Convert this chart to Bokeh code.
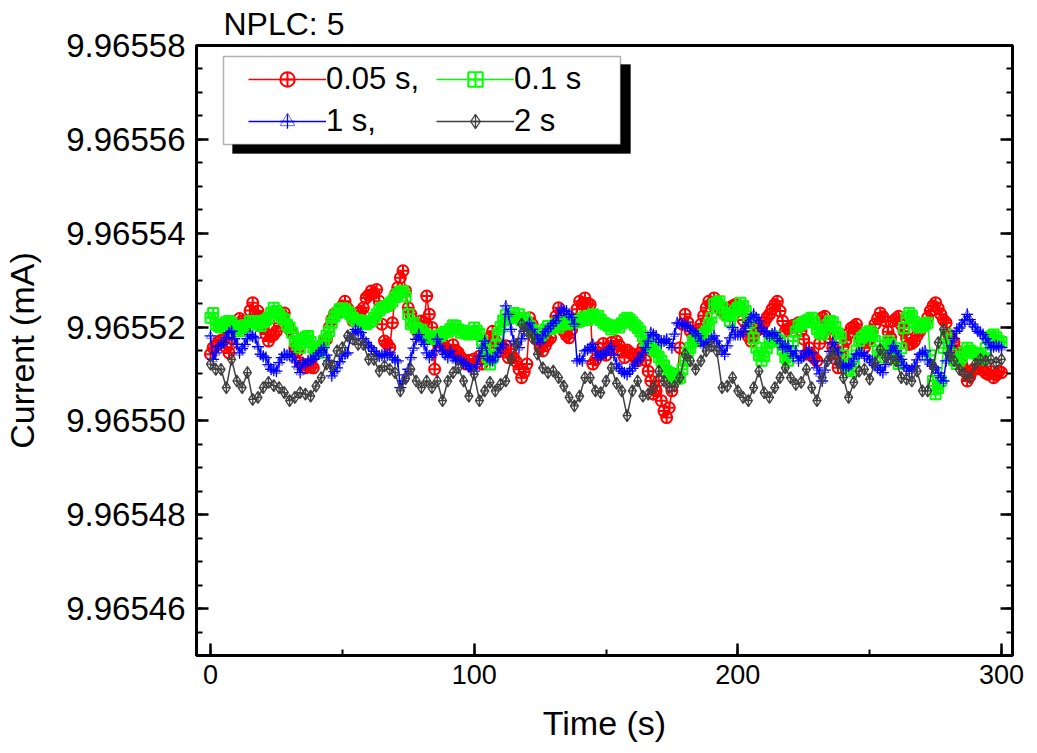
from bokeh.plotting import figure
from bokeh.models import (Range1d, FixedTicker, PrintfTickFormatter, LinearAxis,
                          Legend, LegendItem, BoxAnnotation, ColumnDataSource,
                          CustomLabelingPolicy)
from bokeh.embed import file_html
from bokeh.resources import INLINE
import numpy as np

# ---------------- data ----------------
title_text = "NPLC: 5"
series_labels = ["0.05 s,", "0.1 s", "1 s,", "2 s"]
x_ticks = [0, 100, 200, 300]
y_ticks = [9.96546, 9.96548, 9.96550, 9.96552, 9.96554, 9.96556, 9.96558]
base_mA = 9.96550          # offsets below are in nA (1e-6 mA) above this base

t_red = list(range(0, 301))
red_nA = [
    14.2, 15.6, 16.0, 16.8, 17.2, 17.4, 15.6, 14.5, 16.5, 19.9,
    20.5, 21.8, 21.3, 20.4, 20.9, 23.5, 25.2, 22.7, 23.4, 22.0,
    19.9, 18.5, 17.0, 18.0, 18.4, 19.1, 20.8, 22.7, 23.0, 20.6,
    19.5, 18.8, 15.5, 14.9, 12.4, 11.9, 11.3, 12.0, 11.5, 11.3,
    14.2, 15.2, 16.0, 16.8, 17.4, 19.9, 21.6, 22.8, 23.0, 23.9,
    24.5, 25.5, 24.0, 22.7, 21.3, 22.0, 23.0, 23.4, 24.1, 26.2,
    26.8, 27.7, 27.2, 28.0, 25.5, 20.6, 17.0, 16.4, 15.6, 20.9,
    26.9, 28.4, 30.5, 32.0, 27.7, 24.1, 22.7, 20.6, 19.4, 18.4,
    21.3, 21.0, 26.6, 22.7, 19.9, 11.0, 17.0, 18.1, 16.5, 15.6,
    15.2, 14.9, 16.2, 15.0, 14.5, 13.5, 13.0, 12.1, 12.9, 11.7,
    13.2, 12.5, 13.8, 12.1, 14.4, 16.3, 17.8, 19.1, 17.0, 16.2,
    14.9, 15.5, 16.0, 13.5, 14.2, 13.5, 12.6, 11.0, 9.2, 10.4,
    12.1, 22.0, 20.6, 18.8, 17.2, 15.6, 14.9, 16.0, 17.1, 17.7,
    20.1, 22.3, 24.1, 22.0, 19.1, 18.2, 17.7, 19.5, 21.6, 23.8,
    25.5, 24.9, 26.2, 25.0, 24.8, 12.1, 13.0, 15.6, 14.3, 16.5,
    14.0, 15.8, 16.7, 15.4, 17.0, 16.1, 14.9, 13.5, 15.1, 14.6,
    14.2, 13.4, 12.8, 14.5, 15.6, 12.9, 10.6, 8.5, 5.7, 6.4,
    8.5, 4.3, 2.1, 0.7, 2.8, 6.4, 9.9, 9.0, 15.6, 20.6,
    22.7, 21.0, 19.1, 18.0, 17.0, 19.5, 20.6, 22.4, 24.1, 25.5,
    25.0, 26.2, 25.4, 24.1, 23.5, 22.7, 23.4, 24.1, 24.5, 24.8,
    24.3, 24.1, 21.5, 19.1, 18.0, 17.0, 18.2, 19.1, 20.4, 20.0,
    21.0, 22.0, 22.7, 23.8, 24.8, 25.5, 23.4, 21.3, 19.1, 19.6,
    19.9, 20.4, 20.0, 20.9, 19.2, 17.4, 14.2, 15.6, 14.0, 13.4,
    12.8, 16.5, 22.0, 22.3, 20.0, 17.5, 15.6, 13.2, 11.3, 14.0,
    15.8, 17.2, 18.6, 19.8, 20.1, 20.6, 18.5, 17.0, 15.6, 16.8,
    17.5, 19.0, 20.6, 21.8, 23.0, 22.2, 21.3, 19.0, 17.7, 21.3,
    21.8, 22.3, 20.5, 19.1, 17.6, 16.3, 16.5, 17.0, 18.2, 19.1,
    20.0, 20.6, 22.0, 23.4, 24.5, 25.2, 24.0, 22.7, 21.5, 20.9,
    18.4, 17.5, 16.7, 15.0, 14.2, 12.0, 10.6, 8.5, 9.5, 10.8,
    11.0, 11.3, 12.5, 10.8, 10.2, 9.9, 10.5, 9.2, 9.8, 10.6,
    10.3,
]

t_green = list(range(0, 301))
green_nA = [
    22.0, 23.0, 20.6, 20.2, 19.9, 20.5, 21.0, 21.3, 20.8, 20.2,
    19.6, 19.1, 19.8, 20.4, 20.2, 21.3, 21.0, 21.3, 20.7, 20.2,
    21.0, 21.5, 22.0, 23.0, 24.1, 23.4, 22.7, 22.0, 21.6, 20.5,
    19.9, 18.8, 17.0, 16.2, 15.6, 17.4, 17.8, 18.1, 16.8, 15.6,
    15.0, 14.5, 15.8, 17.0, 18.2, 19.1, 20.9, 22.3, 23.0, 23.8,
    24.0, 23.8, 23.2, 22.7, 22.0, 21.3, 21.5, 21.3, 20.8, 20.6,
    21.0, 21.3, 22.0, 22.7, 23.5, 24.1, 24.3, 24.5, 25.0, 25.5,
    26.4, 27.0, 27.5, 27.7, 26.5, 22.7, 20.6, 20.9, 19.8, 19.1,
    19.4, 18.6, 18.0, 17.7, 18.2, 17.4, 17.9, 18.1, 18.5, 19.0,
    19.0, 19.6, 20.4, 20.2, 19.5, 18.8, 19.2, 18.6, 18.4, 19.0,
    19.9, 19.2, 18.5, 17.0, 15.2, 13.6, 12.0, 13.5, 16.0, 18.4,
    20.0, 21.4, 22.5, 21.8, 22.3, 23.0, 22.0, 22.7, 21.5, 22.0,
    21.0, 20.2, 19.4, 18.8, 18.4, 18.0, 18.6, 19.5, 20.2, 19.6,
    20.0, 20.8, 19.9, 20.5, 21.0, 20.6, 21.4, 20.8, 21.2, 21.0,
    21.3, 21.8, 22.2, 21.5, 22.3, 22.7, 22.0, 22.4, 21.5, 20.9,
    20.6, 20.2, 19.5, 20.0, 20.4, 19.9, 20.8, 21.5, 22.0, 21.6,
    21.0, 20.4, 19.8, 19.1, 18.0, 17.0, 16.5, 15.8, 15.2, 14.9,
    13.6, 12.8, 11.8, 10.6, 10.2, 9.8, 9.5, 9.0, 9.2, 11.0,
    12.8, 14.5, 15.6, 17.0, 17.5, 18.0, 17.6, 18.4, 19.1, 20.5,
    22.0, 24.8, 25.2, 25.5, 24.2, 23.0, 22.4, 21.3, 22.6, 23.5,
    24.1, 25.2, 24.5, 23.4, 21.8, 19.9, 17.6, 15.6, 14.0, 12.8,
    13.8, 15.5, 16.8, 17.7, 18.0, 17.4, 17.0, 15.2, 13.5, 12.8,
    14.5, 17.0, 19.0, 20.3, 20.6, 21.0, 21.3, 21.6, 22.0, 21.0,
    19.6, 18.8, 18.4, 19.5, 20.4, 21.3, 21.0, 20.0, 18.6, 17.7,
    14.0, 12.0, 11.0, 10.6, 12.5, 15.0, 17.0, 17.7, 18.2, 18.8,
    19.1, 18.5, 17.0, 15.0, 13.5, 14.8, 16.0, 17.0, 16.4, 15.0,
    13.6, 12.1, 15.5, 19.8, 22.0, 23.0, 22.4, 21.0, 20.3, 19.9,
    20.2, 20.6, 20.9, 14.0, 8.5, 5.7, 7.0, 8.5, 15.6, 18.4,
    16.5, 14.2, 13.0, 12.1, 12.8, 13.6, 14.6, 15.6, 15.0, 14.6,
    14.4, 14.2, 13.5, 13.1, 15.5, 17.7, 18.0, 18.4, 17.8, 17.0,
    16.8,
]

t_blue = list(range(0, 301))
blue_nA = [
    18.1, 13.1, 14.5, 15.9, 16.2, 16.7, 17.8, 18.8, 19.1, 17.5,
    16.3, 14.5, 15.4, 16.3, 17.5, 18.4, 18.0, 17.7, 15.8, 14.2,
    13.8, 13.5, 12.0, 11.0, 10.8, 10.6, 12.4, 13.5, 14.2, 14.0,
    14.2, 13.6, 12.8, 11.5, 10.3, 12.4, 12.0, 12.8, 13.0, 13.1,
    13.8, 14.5, 15.0, 15.6, 14.0, 12.8, 9.6, 10.5, 11.3, 12.6,
    13.8, 14.3, 14.5, 17.7, 18.6, 19.5, 19.0, 18.8, 17.5, 16.7,
    16.0, 15.6, 14.8, 14.2, 13.8, 14.0, 14.2, 14.0, 14.5, 13.5,
    13.0, 12.8, 7.1, 8.5, 9.8, 11.0, 13.5, 15.5, 17.4, 18.4,
    17.2, 16.3, 14.5, 13.5, 14.0, 14.9, 17.4, 16.0, 15.0, 14.2,
    13.5, 14.9, 13.8, 12.8, 13.0, 12.8, 12.4, 12.1, 11.5, 11.0,
    10.6, 12.0, 13.8, 15.5, 17.0, 13.8, 13.0, 12.8, 13.6, 14.5,
    15.5, 16.3, 24.5, 22.7, 19.5, 17.0, 16.2, 15.6, 17.5, 19.1,
    20.0, 20.9, 19.5, 18.4, 17.5, 16.7, 18.1, 19.0, 19.6, 20.2,
    20.8, 21.3, 22.5, 23.8, 23.5, 23.4, 22.7, 22.0, 20.6, 12.8,
    13.2, 12.8, 14.9, 15.2, 15.6, 16.3, 14.9, 13.5, 13.9, 14.2,
    14.5, 15.2, 15.9, 14.0, 12.1, 11.2, 10.6, 10.2, 9.9, 10.6,
    11.2, 12.1, 12.8, 13.5, 14.5, 15.6, 17.0, 18.8, 18.4, 18.1,
    17.3, 16.7, 17.0, 17.4, 16.5, 15.6, 18.5, 20.9, 20.8, 20.6,
    20.4, 20.2, 19.7, 19.1, 18.6, 18.1, 17.0, 16.0, 16.3, 16.7,
    17.4, 18.1, 17.0, 16.0, 15.0, 14.2, 16.0, 17.7, 19.9, 18.4,
    18.4, 18.4, 19.0, 20.2, 21.0, 22.0, 22.7, 22.0, 21.3, 19.8,
    19.1, 18.5, 18.1, 18.5, 18.8, 17.6, 17.0, 15.6, 15.8, 16.0,
    14.8, 13.8, 14.9, 12.8, 13.5, 13.8, 14.9, 14.6, 14.5, 12.8,
    11.3, 10.0, 8.5, 10.8, 12.8, 14.8, 16.7, 15.5, 14.5, 12.1,
    11.8, 11.3, 11.7, 12.1, 13.2, 14.2, 14.4, 14.5, 13.8, 13.8,
    13.0, 12.4, 11.8, 11.3, 10.8, 10.3, 12.0, 13.5, 15.0, 16.0,
    14.9, 13.8, 13.1, 11.8, 11.3, 10.6, 11.0, 11.7, 13.0, 14.2,
    14.5, 14.9, 13.0, 12.1, 11.6, 11.3, 10.2, 9.2, 8.5, 12.8,
    14.5, 16.0, 17.6, 19.1, 19.8, 20.6, 21.5, 22.7, 21.6, 20.6,
    20.0, 19.1, 18.8, 18.4, 17.5, 16.7, 15.6, 15.8, 16.0, 15.8,
    15.6,
]

t_black = list(range(0, 301, 2))
black_nA = [
    12.1, 11.0, 11.0, 7.1, 13.1, 8.5, 7.1, 10.3, 4.6, 5.0,
    7.1, 8.2, 7.5, 7.1, 6.0, 4.3, 5.0, 6.0, 5.7, 5.3,
    7.4, 9.2, 12.1, 11.7, 14.9, 15.6, 18.1, 17.4, 16.3, 16.3,
    13.1, 13.1, 10.6, 11.7, 11.0, 10.3, 6.4, 9.0, 11.0, 8.5,
    7.1, 8.5, 7.1, 8.5, 4.3, 8.5, 10.3, 11.3, 8.5, 5.3,
    9.9, 4.3, 6.4, 8.2, 6.4, 7.8, 8.5, 13.1, 16.3, 20.6,
    19.1, 17.7, 14.2, 11.3, 10.3, 10.6, 9.2, 7.4, 5.0, 3.2,
    5.3, 9.2, 9.2, 6.4, 6.0, 8.5, 11.3, 8.0, 6.4, 1.1,
    6.4, 8.5, 5.3, 5.7, 7.1, 10.6, 8.5, 7.1, 7.4, 9.2,
    14.2, 12.8, 11.0, 12.8, 14.9, 16.0, 14.9, 7.1, 7.4, 9.2,
    6.4, 5.0, 4.3, 7.1, 10.6, 6.0, 5.0, 7.1, 9.2, 11.3,
    9.2, 7.8, 8.2, 11.0, 7.1, 4.3, 9.2, 12.8, 14.5, 12.4,
    9.2, 5.0, 8.2, 10.6, 11.0, 8.9, 12.4, 15.2, 13.5, 13.1,
    12.8, 9.2, 8.9, 8.5, 10.6, 6.4, 6.4, 11.7, 16.7, 19.5,
    14.2, 12.8, 11.0, 9.9, 9.2, 12.1, 13.1, 12.8, 13.1, 12.4,
    13.1,
]

# ---------------- layout helpers (page pixels -> data) ----------------
X0, X1 = -5.31, 304.17
Y0, Y1 = 9.96545, 9.96558
FW, FH = 816, 610
FL, FT = 193, 44          # frame left / top on the page


def px_x(px):
    return X0 + (px - FL) / FW * (X1 - X0)


def px_y(py):
    return Y1 - (py - FT) / FH * (Y1 - Y0)


FONT = "Liberation Sans"

p = figure(frame_width=FW, frame_height=FH,
           x_range=Range1d(X0, X1), y_range=Range1d(Y0, Y1),
           output_backend="svg", toolbar_location=None,
           min_border_left=FL, min_border_right=20,
           min_border_top=FT, min_border_bottom=92,
           background_fill_color="white", border_fill_color="white")

p.title.text = title_text
p.title.text_font = FONT
p.title.text_font_size = "32px"
p.title.text_font_style = "normal"
p.title.text_color = "black"
p.title.align = "left"
p.title.offset = 27
p.title.standoff = 7

p.xgrid.visible = False
p.ygrid.visible = False
p.outline_line_color = "black"
p.outline_line_width = 3
p.outline_line_alpha = 1.0

x_minor = list(np.arange(0, 301, 50))
y_minor = list(np.round(np.arange(9.96545, 9.965581, 0.000005), 6))
xt = FixedTicker(ticks=x_ticks, minor_ticks=x_minor)
yt = FixedTicker(ticks=y_ticks, minor_ticks=y_minor)


def style_axis(ax):
    ax.axis_line_width = 3
    ax.axis_line_color = "black"
    ax.major_tick_in = 12
    ax.major_tick_out = 0
    ax.minor_tick_in = 6
    ax.minor_tick_out = 0
    ax.major_tick_line_width = 2.5
    ax.minor_tick_line_width = 2
    ax.major_label_text_font = FONT
    ax.axis_label_text_font = FONT
    ax.axis_label_text_font_style = "normal"
    ax.axis_label_text_font_size = "34px"
    ax.axis_label_text_color = "black"
    ax.major_label_text_color = "black"


xa = p.xaxis[0]
xa.ticker = xt
style_axis(xa)
xa.major_label_text_font_size = "27px"
xa.major_label_standoff = 9
xa.axis_label = "Time (s)"
xa.axis_label_standoff = 17

ya = p.yaxis[0]
ya.ticker = yt
ya.formatter = PrintfTickFormatter(format="%.5f")
style_axis(ya)
ya.major_label_text_font_size = "33px"
ya.major_label_standoff = 11
ya.axis_label = "Current (mA)"
ya.axis_label_standoff = 22

ra = LinearAxis(ticker=yt)
style_axis(ra)
ra.major_label_policy = CustomLabelingPolicy(code="return new Set()")
ra.major_label_standoff = 0
p.add_layout(ra, "right")

# ---------------- data glyphs ----------------
def cur(vals):
    return [base_mA + v * 1e-6 for v in vals]


src_r = ColumnDataSource(dict(t=t_red, i=cur(red_nA)))
src_g = ColumnDataSource(dict(t=t_green, i=cur(green_nA)))
src_b = ColumnDataSource(dict(t=t_blue, i=cur(blue_nA)))
src_k = ColumnDataSource(dict(t=t_black, i=cur(black_nA)))

RED, GREEN, BLUE, GREY = "#ff0000", "#00ff00", "#0000ff", "#404040"

lr = p.line("t", "i", source=src_r, line_color=RED, line_width=1.5)
sr = p.scatter("t", "i", source=src_r, marker="circle_cross", size=11,
               line_color=RED, fill_color=None, line_width=2)
lg = p.line("t", "i", source=src_g, line_color=GREEN, line_width=1.5)
sg = p.scatter("t", "i", source=src_g, marker="square_cross", size=10,
               line_color=GREEN, fill_color=None, line_width=2)
lb = p.line("t", "i", source=src_b, line_color=BLUE, line_width=1.5)
sb1 = p.scatter("t", "i", source=src_b, marker="cross", size=12,
                line_color=BLUE, line_width=1.3)
sb2 = p.scatter("t", "i", source=src_b, marker="triangle", size=8,
                line_color=BLUE, fill_color=None, line_width=1.0, line_alpha=0.6)
lk = p.line("t", "i", source=src_k, line_color=GREY, line_width=1.5)
sk = p.scatter("t", "i", source=src_k, marker="diamond_cross", size=12,
               line_color=GREY, fill_color=None, line_width=1.3)

# ---------------- legend with shadowed box ----------------
shadow = BoxAnnotation(left=px_x(229), right=px_x(627), top=px_y(63), bottom=px_y(152),
                       fill_color="black", fill_alpha=1.0, line_color="black", line_width=1)
box = BoxAnnotation(left=px_x(220), right=px_x(617), top=px_y(55), bottom=px_y(143),
                    fill_color="white", fill_alpha=1.0, line_color="black", line_width=1.5)
p.add_layout(shadow)
p.add_layout(box)

# items listed column by column (Bokeh fills legend columns first)
legend = Legend(items=[
    LegendItem(label=series_labels[0], renderers=[lr, sr]),
    LegendItem(label=series_labels[2], renderers=[lb, sb1, sb2]),
    LegendItem(label=series_labels[1], renderers=[lg, sg]),
    LegendItem(label=series_labels[3], renderers=[lk, sk]),
], ncols=2, location=(47, FH - 11 - 88), margin=0, padding=5, spacing=6,
    glyph_width=78, glyph_height=36, label_height=36, label_width=104,
    label_standoff=0, label_text_font=FONT, label_text_font_size="31px",
    label_text_color="black",
    background_fill_alpha=0, border_line_alpha=0)
p.add_layout(legend)

open("out.html", "w").write(file_html(p, INLINE))
